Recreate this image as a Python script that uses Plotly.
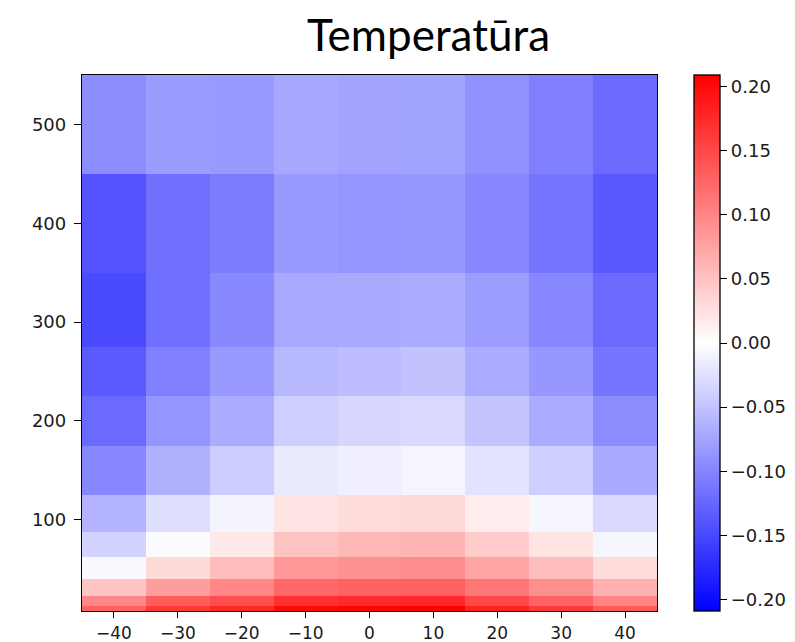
import plotly.graph_objects as go

# Data
x_centers = [-40, -30, -20, -10, 0, 10, 20, 30, 40]
y_levels = [10, 15, 30, 50, 75, 100, 150, 200, 250, 300, 400, 500]

row_10 = [0.130, 0.163, 0.176, 0.201, 0.207, 0.209, 0.183, 0.162, 0.135]
row_15 = [0.098, 0.134, 0.147, 0.170, 0.175, 0.176, 0.150, 0.129, 0.101]
row_30 = [0.048, 0.081, 0.098, 0.124, 0.127, 0.129, 0.112, 0.092, 0.065]
row_50 = [-0.005, 0.032, 0.055, 0.084, 0.091, 0.094, 0.075, 0.055, 0.029]
row_75 = [-0.036, -0.003, 0.019, 0.050, 0.058, 0.061, 0.043, 0.022, -0.007]
row_100 = [-0.062, -0.027, -0.009, 0.022, 0.029, 0.032, 0.015, -0.007, -0.031]
row_150 = [-0.098, -0.065, -0.042, -0.017, -0.013, -0.008, -0.023, -0.040, -0.070]
row_200 = [-0.122, -0.087, -0.069, -0.039, -0.034, -0.031, -0.048, -0.069, -0.094]
row_250 = [-0.135, -0.104, -0.084, -0.058, -0.054, -0.050, -0.069, -0.085, -0.113]
row_300 = [-0.148, -0.117, -0.097, -0.071, -0.070, -0.069, -0.080, -0.098, -0.122]
row_400 = [-0.142, -0.117, -0.107, -0.084, -0.087, -0.085, -0.098, -0.113, -0.137]
row_500 = [-0.094, -0.081, -0.084, -0.072, -0.075, -0.076, -0.091, -0.105, -0.121]

z_rows = [row_10, row_15, row_30, row_50, row_75, row_100,
          row_150, row_200, row_250, row_300, row_400, row_500]

vmax = 0.209
x_ticks = [-40, -30, -20, -10, 0, 10, 20, 30, 40]
y_ticks = [100, 200, 300, 400, 500]
cb_ticks = [-0.20, -0.15, -0.10, -0.05, 0.00, 0.05, 0.10, 0.15, 0.20]
title_text = "Temperatūra"

bwr = [[0.0, "rgb(0,0,255)"], [0.5, "rgb(255,255,255)"], [1.0, "rgb(255,0,0)"]]

tick_font = dict(family="DejaVu Sans", size=18, color="#1a1a1a")
x_tick_font = dict(family="DejaVu Sans", size=17, color="#1a1a1a")

fig = go.Figure(
    go.Heatmap(
        x=x_centers,
        y=y_levels,
        z=z_rows,
        zmin=-vmax,
        zmax=vmax,
        colorscale=bwr,
        colorbar=dict(
            xref="container",
            x=694 / 795,
            xanchor="left",
            xpad=0,
            ypad=0,
            y=0.5,
            yanchor="middle",
            len=1.0,
            lenmode="fraction",
            thickness=26,
            outlinecolor="#000000",
            outlinewidth=1.3,
            tickvals=cb_ticks,
            tickformat=".2f",
            ticks="outside",
            ticklen=7,
            tickwidth=1.3,
            tickcolor="#000000",
            tickfont=tick_font,
        ),
    )
)

axis_common = dict(
    showline=True,
    linecolor="#000000",
    linewidth=1.3,
    mirror=True,
    ticks="outside",
    tickwidth=1.3,
    tickcolor="#000000",
    showgrid=False,
    zeroline=False,
    automargin=False,
)

fig.update_layout(
    width=795,
    height=642,
    margin=dict(l=82, r=138, t=75, b=31),
    paper_bgcolor="white",
    plot_bgcolor="white",
    title=dict(
        text=title_text,
        x=428.5 / 795,
        xanchor="center",
        y=1 - 36 / 642,
        yanchor="middle",
        xref="container",
        yref="container",
        automargin=False,
        font=dict(family="Lato", size=44, color="#000000"),
    ),
    xaxis=dict(range=[-45, 45], tickvals=x_ticks, ticklen=6, tickfont=x_tick_font,
               ticklabelstandoff=0, **axis_common),
    yaxis=dict(range=[7.5, 550], tickvals=y_ticks, ticklen=7, tickfont=tick_font,
               ticklabelstandoff=4, **axis_common),
)

fig.write_html("out.html")
